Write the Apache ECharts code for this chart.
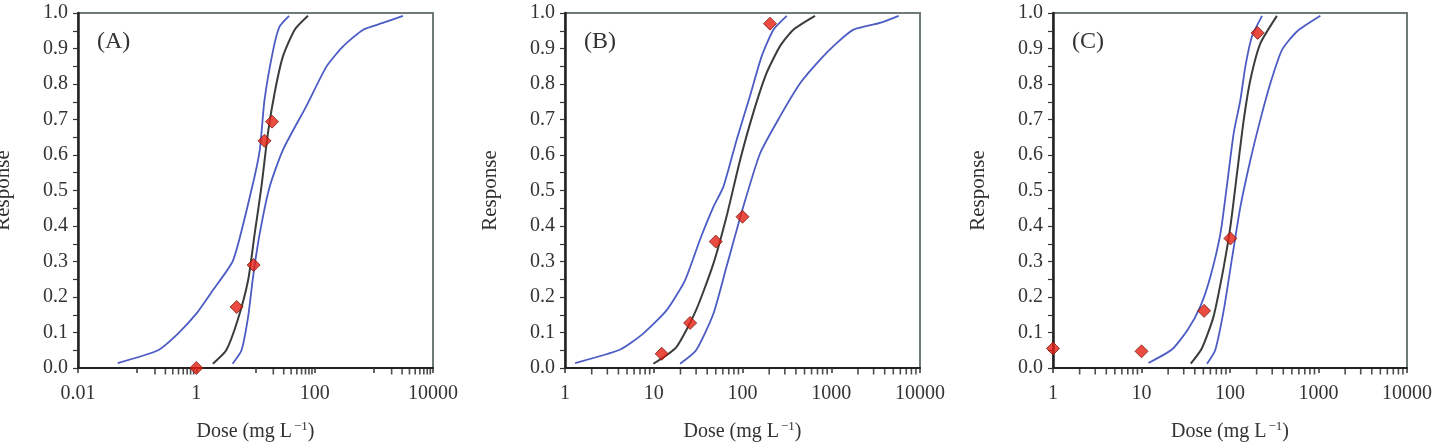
<!DOCTYPE html>
<html>
<head>
<meta charset="utf-8">
<script src="https://cdn.jsdelivr.net/npm/echarts@6/dist/echarts.min.js"></script>
<style>
    html, body { margin: 0; padding: 0; background: #fff; }
    #chart { width: 1435px; height: 442px; }
</style>
</head>
<body>
<div id="chart"></div>
<script>
    // 面板 A：拟合曲线、置信带、观测点 [dose, response]
    const aFit = [[1.9, 0.012], [3.2, 0.05], [5.0, 0.135], [7.5, 0.247], [9.7, 0.379], [12.6, 0.511], [16.2, 0.661], [21, 0.774], [29, 0.877], [46, 0.953], [77, 0.992]];
    const aLeft = [[0.047, 0.014], [0.225, 0.05], [0.49, 0.097], [1.0, 0.153], [1.9, 0.219], [4.2, 0.304], [8.5, 0.5], [11.8, 0.614], [14.2, 0.755], [19.9, 0.896], [25.6, 0.962], [37, 0.992]];
    const aRight = [[4.1, 0.012], [5.8, 0.05], [7.5, 0.144], [9.1, 0.257], [11.8, 0.379], [17.4, 0.511], [29, 0.614], [72, 0.737], [158, 0.849], [302, 0.906], [660, 0.953], [1413, 0.972], [3100, 0.992]];
    const aObs = [[1, 0], [4.8, 0.172], [9.3, 0.29], [14.2, 0.64], [19, 0.694]];

    // 面板 B
    const bFit = [[9.9, 0.012], [18, 0.059], [30, 0.163], [47, 0.294], [66, 0.426], [94, 0.586], [132, 0.718], [187, 0.831], [264, 0.906], [374, 0.953], [656, 0.992]];
    const bLeft = [[1.3, 0.014], [4.2, 0.052], [7.6, 0.097], [14, 0.163], [22.5, 0.247], [33, 0.36], [47, 0.454], [61, 0.511], [86, 0.643], [121, 0.765], [164, 0.877], [223, 0.953], [316, 0.992]];
    const bRight = [[19.8, 0.012], [30, 0.05], [47, 0.153], [66, 0.285], [102, 0.454], [158, 0.605], [264, 0.708], [446, 0.802], [745, 0.868], [1150, 0.915], [1780, 0.953], [3540, 0.972], [5750, 0.992]];
    const bObs = [[12.3, 0.04], [25.7, 0.127], [50, 0.356], [100, 0.426], [204, 0.97]];

    // 面板 C
    const cFit = [[36, 0.012], [48, 0.055], [65, 0.144], [85, 0.285], [101, 0.398], [120, 0.548], [143, 0.699], [170, 0.812], [221, 0.915], [339, 0.992]];
    const cLeft = [[12, 0.014], [22, 0.052], [33, 0.106], [46, 0.172], [60, 0.257], [78, 0.379], [92, 0.511], [110, 0.661], [131, 0.755], [149, 0.849], [177, 0.934], [230, 0.992]];
    const cRight = [[55, 0.012], [68, 0.05], [85, 0.163], [106, 0.313], [131, 0.454], [170, 0.586], [220, 0.699], [286, 0.802], [387, 0.896], [571, 0.948], [1050, 0.992]];
    const cObs = [[1, 0.055], [10, 0.047], [51, 0.161], [101, 0.365], [205, 0.944]];

    // 刻度标签
    const panelNames = ['(A)', '(B)', '(C)'];
    const xLabelsA = ['0.01', '1', '100', '10000'];
    const xLabelsBC = ['1', '10', '100', '1000', '10000'];

    const FONT = '"Liberation Serif", "Times New Roman", serif';
    const TEXT = '#333';
    const BLUE = '#4c5cc4';
    const DARK = '#3a3e3a';

    // 次刻度位置（对数轴每个十倍区间的 2..9）
    function minorTicks(decades) {
        let out = [];
        decades.forEach(function (k) {
            for (let m = 2; m <= 9; m++) {
                out.push([Number((m * Math.pow(10, k)).toPrecision(3)), 0]);
            }
        });
        return out;
    }

    const panels = [
        {fit: aFit, left: aLeft, right: aRight, obs: aObs, min: 0.01, max: 10000, labels: xLabelsA, minor: minorTicks([-1, 1, 3]), gridLeft: 78, width: 355},
        {fit: bFit, left: bLeft, right: bRight, obs: bObs, min: 1, max: 10000, labels: xLabelsBC, minor: minorTicks([0, 1, 2, 3]), gridLeft: 565, width: 355},
        {fit: cFit, left: cLeft, right: cRight, obs: cObs, min: 1, max: 10000, labels: xLabelsBC, minor: minorTicks([0, 1, 2, 3]), gridLeft: 1053, width: 354}
    ];

    let grid = [], xAxis = [], yAxis = [], series = [], title = [];

    panels.forEach(function (p, i) {
        grid.push({
            left: p.gridLeft, top: 13, width: p.width, height: 355,
            containLabel: false, outerBoundsMode: 'none',
            show: true, borderColor: '#6f7c76', borderWidth: 2
        });
        title.push({
            text: panelNames[i], left: p.gridLeft + 19, top: 30, padding: 0,
            textStyle: {fontFamily: FONT, fontSize: 24, fontWeight: 'normal', color: TEXT}
        });
        xAxis.push({
            type: 'log', logBase: 10, gridIndex: i, min: p.min, max: p.max,
            name: 'Dose (mg L{sup|−1})', nameLocation: 'middle', nameGap: 52,
            nameTextStyle: {
                fontFamily: FONT, fontSize: 20, color: TEXT,
                rich: {sup: {fontFamily: FONT, fontSize: 13, color: TEXT, verticalAlign: 'top', padding: [0, 0, 10, 2]}}
            },
            axisLine: {lineStyle: {color: '#222', width: 2}},
            axisTick: {show: true, length: 5, lineStyle: {color: '#333', width: 1.5}},
            splitLine: {show: false},
            axisLabel: {
                interval: 0, margin: 16, fontFamily: FONT, fontSize: 20, color: TEXT,
                showMinLabel: true, showMaxLabel: true,
                formatter: function (v) {
                    let s = String(Number(v.toPrecision(1)));
                    return p.labels.indexOf(s) >= 0 ? s : '';
                }
            }
        });
        yAxis.push({
            type: 'value', gridIndex: i, min: 0, max: 1, interval: 0.1,
            name: 'Response', nameLocation: 'middle', nameGap: 64,
            nameTextStyle: {fontFamily: FONT, fontSize: 21, color: TEXT},
            axisLine: {show: true, lineStyle: {color: '#222', width: 2.5}},
            axisTick: {show: true, length: 5, lineStyle: {color: '#333', width: 1.2}},
            minorTick: {show: true, splitNumber: 2, length: 5, lineStyle: {color: '#333', width: 1.2}},
            splitLine: {show: false},
            axisLabel: {
                margin: 10, fontFamily: FONT, fontSize: 20, color: TEXT,
                formatter: function (v) { return v.toFixed(1); }
            }
        });
        series.push(
            {type: 'scatter', xAxisIndex: i, yAxisIndex: i, data: p.minor, symbol: 'rect',
                symbolSize: [1.6, 6], symbolOffset: [0, 3.5], itemStyle: {color: '#222'}, clip: false, silent: true, z: 10},
            {type: 'line', xAxisIndex: i, yAxisIndex: i, data: p.left, showSymbol: false, smooth: 0.2,
                lineStyle: {color: BLUE, width: 1.8}, silent: true, z: 2},
            {type: 'line', xAxisIndex: i, yAxisIndex: i, data: p.right, showSymbol: false, smooth: 0.2,
                lineStyle: {color: BLUE, width: 1.8}, silent: true, z: 2},
            {type: 'line', xAxisIndex: i, yAxisIndex: i, data: p.fit, showSymbol: false, smooth: 0.2,
                lineStyle: {color: DARK, width: 2}, silent: true, z: 3},
            {type: 'scatter', xAxisIndex: i, yAxisIndex: i, data: p.obs, symbol: 'diamond', symbolSize: 13,
                itemStyle: {color: '#e51f12', borderColor: '#7d1a12', borderWidth: 1}, clip: false, z: 11}
        );
    });

    let myChart = echarts.init(document.getElementById('chart'));
    myChart.setOption({
        animation: false,
        backgroundColor: '#fff',
        title: title,
        grid: grid,
        xAxis: xAxis,
        yAxis: yAxis,
        series: series
    });
</script>
</body>
</html>
